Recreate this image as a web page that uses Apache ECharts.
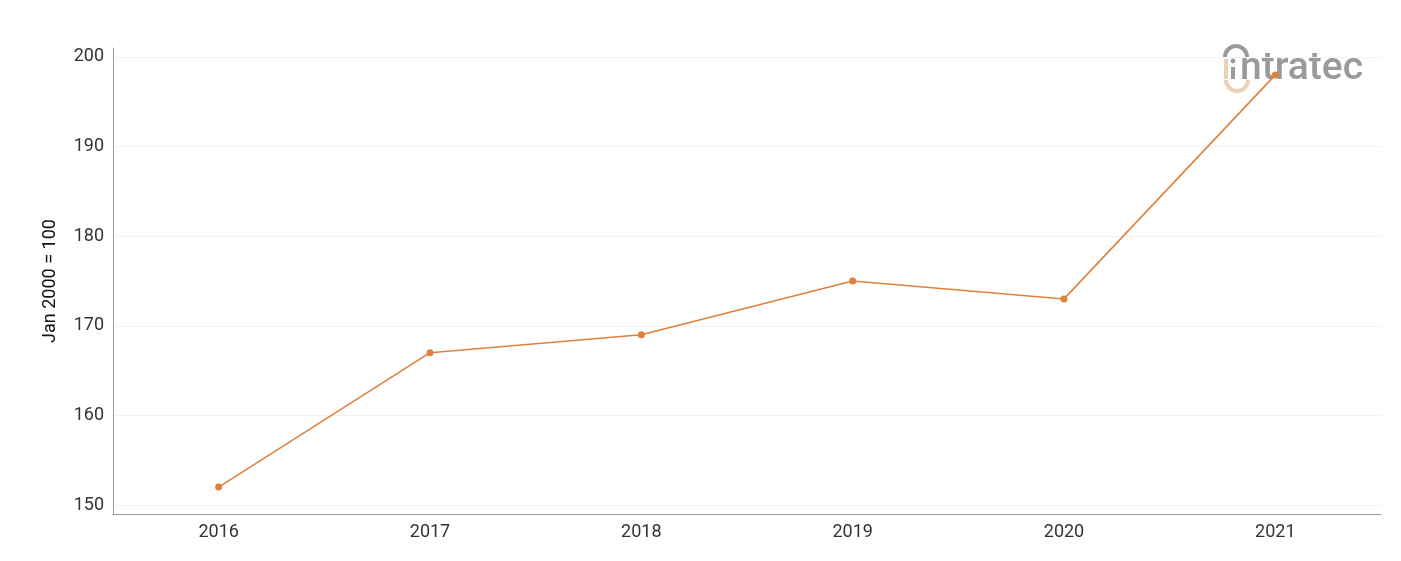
<!DOCTYPE html>
<html>
<head>
<meta charset="utf-8">
<script src="https://cdn.jsdelivr.net/npm/echarts@6/dist/echarts.min.js"></script>
<style>
  html, body { margin: 0; padding: 0; background: #fff; }
  #chart { width: 1401px; height: 561px; }
</style>
</head>
<body>
<div id="chart"></div>
<script>
// chart data
const years = ["2016", "2017", "2018", "2019", "2020", "2021"];
const indexValues = [152, 167, 169, 175, 173, 198];
const yTicks = [150, 160, 170, 180, 190, 200];

const chart = echarts.init(document.getElementById("chart"));

const gray = "#9a9a9a";
const tan = "#e9d2b9";

const option = {
  animation: false,
  grid: { left: 113, right: 20, top: 48, bottom: 47 },
  xAxis: {
    type: "category",
    data: years,
    boundaryGap: true,
    axisLine: { lineStyle: { color: "#999", width: 1 } },
    axisTick: { show: false },
    axisLabel: { color: "#333", fontFamily: "Roboto", fontSize: 18, margin: 9 },
  },
  yAxis: {
    type: "value",
    min: 149,
    max: 201,
    name: "Jan 2000 = 100",
    nameLocation: "middle",
    nameGap: 54,
    nameTextStyle: { color: "#111", fontFamily: "Roboto", fontSize: 18 },
    axisLine: { show: true, lineStyle: { color: "#999", width: 1 } },
    axisTick: { show: false, customValues: yTicks },
    axisLabel: { color: "#333", fontFamily: "Roboto", fontSize: 18, margin: 9, customValues: yTicks },
    splitLine: { show: true, lineStyle: { color: "#f3f3f3", width: 1 } },
  },
  series: [
    {
      type: "line",
      data: indexValues,
      symbol: "circle",
      symbolSize: 7,
      lineStyle: { color: "#e0803c", width: 1.6 },
      itemStyle: { color: "#e0803c" },
    },
  ],
  // intratec logo, top right
  graphic: [
    {
      type: "arc",
      shape: { cx: 1236, cy: 57, r: 11, startAngle: Math.PI, endAngle: 2 * Math.PI },
      style: { stroke: gray, lineWidth: 4, fill: null },
    },
    {
      type: "arc",
      shape: { cx: 1237, cy: 80, r: 11, startAngle: 0, endAngle: Math.PI },
      style: { stroke: tan, lineWidth: 4, fill: null },
    },
    {
      type: "rect",
      shape: { x: 1224, y: 59, width: 4, height: 20 },
      style: { fill: tan },
    },
    {
      type: "rect",
      shape: { x: 1231, y: 67, width: 4, height: 12 },
      style: { fill: gray },
    },
    {
      type: "circle",
      shape: { cx: 1233, cy: 61, r: 2.4 },
      style: { fill: gray },
    },
    {
      type: "text",
      style: {
        x: 1240,
        y: 69,
        text: "ntratec",
        fill: gray,
        font: "500 39px Roboto",
        verticalAlign: "middle",
      },
    },
  ],
};

chart.setOption(option);
</script>
</body>
</html>
